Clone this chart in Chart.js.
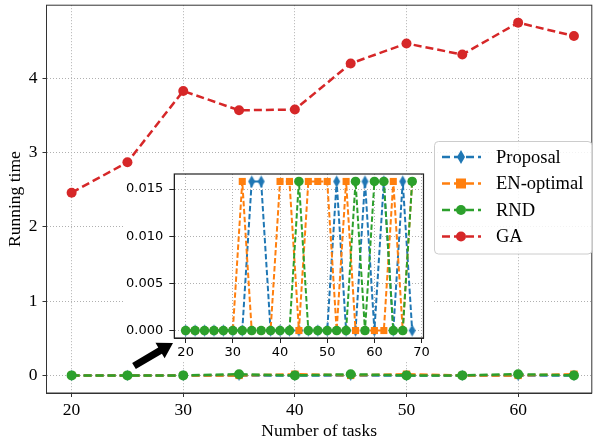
<!DOCTYPE html>
<html><head><meta charset="utf-8">
<script src="https://cdn.jsdelivr.net/npm/chart.js@4/dist/chart.umd.min.js"></script>
<style>
html,body{margin:0;padding:0;background:#fff;}
#wrap{position:relative;width:597px;height:444px;}
#main{position:absolute;left:0;top:0;}
#inset{position:absolute;left:110px;top:168px;}
</style></head>
<body>
<div id="wrap">
<canvas id="main" width="597" height="444"></canvas>
<canvas id="inset" width="322" height="205"></canvas>
</div>
<script>
// ---------- DATA ----------
const mainTasks = [20, 25, 30, 35, 40, 45, 50, 55, 60, 65];
const mainProposal = [0, 0, 0, 0, 0, 0, 0, 0, 0, 0];
const mainENoptimal = [0, 0, 0, 0, 0.0158, 0, 0.0158, 0, 0, 0.0158];
const mainRND = [0, 0, 0, 0.0158, 0, 0.0158, 0, 0, 0.0158, 0];
const mainGA = [2.46, 2.87, 3.83, 3.57, 3.58, 4.20, 4.47, 4.32, 4.75, 4.57];
const mainXTicks = [20, 30, 40, 50, 60];
const mainYTicks = [0, 1, 2, 3, 4];

const insetTasks = [20,22,24,26,28,30,32,34,36,38,40,42,44,46,48,50,52,54,56,58,60,62,64,66,68];
const insetProposal = [0,0,0,0,0,0,0,0.0158,0.0158,0,0,0,0,0,0,0,0.0158,0,0,0.0158,0,0.0158,0,0.0158,0];
const insetENoptimal = [0,0,0,0,0,0,0.0158,0,0,0,0.0158,0.0158,0,0.0158,0.0158,0.0158,0,0.0158,0,0,0,0,0.0158,0,0.0158];
const insetRND = [0,0,0,0,0,0,0,0,0,0,0,0,0.0158,0,0,0,0,0,0.0158,0,0.0158,0.0158,0,0,0.0158];
const insetXTicks = [20, 30, 40, 50, 60, 70];
const insetYTicks = [0, 0.005, 0.010, 0.015];

const seriesNames = ['Proposal', 'EN-optimal', 'RND', 'GA'];
const colors = ['#1f77b4', '#ff7f0e', '#2ca02c', '#d62728'];

// ---------- helpers ----------
function thinDiamond(w, h, color) {
  const c = document.createElement('canvas');
  c.width = Math.ceil(w) + 2; c.height = Math.ceil(h) + 2;
  const g = c.getContext('2d');
  const cx = c.width / 2, cy = c.height / 2;
  g.fillStyle = color;
  g.beginPath();
  g.moveTo(cx, cy - h / 2); g.lineTo(cx + w / 2, cy); g.lineTo(cx, cy + h / 2); g.lineTo(cx - w / 2, cy);
  g.closePath(); g.fill();
  return c;
}
const pts = (xs, ys) => xs.map((x, i) => ({x: x, y: ys[i]}));
const serif = "'Liberation Serif', 'Times New Roman', serif";
const sans = "'DejaVu Sans', sans-serif";
const noPad = s => { s.paddingTop = 0; s.paddingBottom = 0; s.paddingLeft = 0; s.paddingRight = 0; };

function boxPlugin(color, width) {
  return {
    id: 'box' + Math.floor(Math.random() * 1e6),
    afterDatasetsDraw(chart) {
      const a = chart.chartArea, ctx = chart.ctx;
      ctx.save(); ctx.strokeStyle = color; ctx.lineWidth = width;
      ctx.strokeRect(a.left, a.top, a.right - a.left, a.bottom - a.top);
      ctx.restore();
    }
  };
}

// ---------- main chart ----------
const mainDiamond = thinDiamond(6.5, 11, colors[0]);
const legendDiamond = thinDiamond(8, 14, colors[0]);

const legendPlugin = {
  id: 'customLegend',
  afterDraw(chart) {
    const ctx = chart.ctx;
    ctx.save();
    const x0 = 434.5, y0 = 141.5, x1 = 592, y1 = 254, r = 4;
    ctx.beginPath();
    ctx.moveTo(x0 + r, y0); ctx.lineTo(x1 - r, y0); ctx.quadraticCurveTo(x1, y0, x1, y0 + r);
    ctx.lineTo(x1, y1 - r); ctx.quadraticCurveTo(x1, y1, x1 - r, y1);
    ctx.lineTo(x0 + r, y1); ctx.quadraticCurveTo(x0, y1, x0, y1 - r);
    ctx.lineTo(x0, y0 + r); ctx.quadraticCurveTo(x0, y0, x0 + r, y0);
    ctx.closePath();
    ctx.fillStyle = 'rgba(255,255,255,0.85)'; ctx.fill();
    ctx.strokeStyle = '#cccccc'; ctx.lineWidth = 1; ctx.stroke();

    const ys = [157, 183.5, 210, 236.5];
    seriesNames.forEach((name, i) => {
      const y = ys[i];
      ctx.strokeStyle = colors[i]; ctx.lineWidth = 2.5; ctx.setLineDash([8, 4]);
      ctx.beginPath(); ctx.moveTo(442, y); ctx.lineTo(481, y); ctx.stroke();
      ctx.setLineDash([]);
      ctx.fillStyle = colors[i];
      if (i === 0) ctx.drawImage(legendDiamond, 461 - legendDiamond.width / 2, y - legendDiamond.height / 2);
      else if (i === 1) ctx.fillRect(461 - 5, y - 5, 10, 10);
      else { ctx.beginPath(); ctx.arc(461, y, 5, 0, Math.PI * 2); ctx.fill(); }
      ctx.fillStyle = '#000'; ctx.font = "18.5px " + serif; ctx.textBaseline = 'middle';
      ctx.fillText(name, 496, y + 1);
    });
    ctx.restore();
  }
};

function mkDs(label, data, i, style, radius, lw, dash, order) {
  return {label, data, borderColor: colors[i], backgroundColor: colors[i], pointBackgroundColor: colors[i],
    pointBorderColor: colors[i], pointBorderWidth: 0, pointStyle: style, pointRadius: radius,
    borderWidth: lw, borderDash: dash, tension: 0, fill: false, order, clip: false};
}

new Chart(document.getElementById('main'), {
  type: 'line',
  data: {datasets: [
    mkDs('Proposal', pts(mainTasks, mainProposal), 0, mainDiamond, 5, 2.5, [8, 4], 4),
    mkDs('EN-optimal', pts(mainTasks, mainENoptimal), 1, 'rect', 5.2, 2.5, [8, 4], 3),
    mkDs('RND', pts(mainTasks, mainRND), 2, 'circle', 5, 2.5, [8, 4], 2),
    mkDs('GA', pts(mainTasks, mainGA), 3, 'circle', 5, 2.5, [8, 4], 1)
  ]},
  options: {
    responsive: false, animation: false, devicePixelRatio: 1,
    layout: {padding: {top: 2, right: 1, left: 0, bottom: 0}},
    plugins: {legend: {display: false}, tooltip: {enabled: false}},
    scales: {
      x: {type: 'linear', min: 17.75, max: 66.6,
        afterBuildTicks: s => { s.ticks = mainXTicks.map(v => ({value: v})); },
        afterFit: s => { s.height = 51; noPad(s); },
        grid: {color: '#b0b0b0', lineWidth: 1, tickLength: 4, tickColor: '#333', tickBorderDash: [], tickWidth: 1},
        border: {display: true, color: '#333', width: 1, dash: [1, 2]},
        ticks: {color: '#000', font: {family: serif, size: 17.5}, padding: 3, maxRotation: 0},
        title: {display: true, text: 'Number of tasks', color: '#000', font: {family: serif, size: 17.5}, padding: {top: 0, bottom: 2}}
      },
      y: {type: 'linear', min: -0.237, max: 4.985,
        afterBuildTicks: s => { s.ticks = mainYTicks.map(v => ({value: v})); },
        afterFit: s => { s.width = 46.5; noPad(s); },
        grid: {color: '#b0b0b0', lineWidth: 1, tickLength: 4, tickColor: '#333', tickBorderDash: [], tickWidth: 1},
        border: {display: true, color: '#333', width: 1, dash: [1, 2]},
        ticks: {color: '#000', font: {family: serif, size: 17.5}, padding: 5},
        title: {display: true, text: 'Running time', color: '#000', font: {family: serif, size: 17.5}, padding: {top: 5, bottom: 0}}
      }
    }
  },
  plugins: [boxPlugin('#333', 1), legendPlugin]
});

// ---------- inset chart ----------
const insetDiamond = thinDiamond(7, 12, colors[0]);
const OX = 110, OY = 168; // inset canvas offset on the page
const insetBg = {
  id: 'insetBg',
  beforeDraw(chart) {
    const ctx = chart.ctx;
    ctx.save(); ctx.fillStyle = '#fff';
    ctx.fillRect(14, 4, chart.width - 14, 189);
    ctx.restore();
  },
  afterDraw(chart) {
    const ctx = chart.ctx;
    ctx.save();
    const tail = [134 - OX, 366 - OY], tip = [173 - OX, 343 - OY];
    const dx = tip[0] - tail[0], dy = tip[1] - tail[1], L = Math.hypot(dx, dy);
    const ux = dx / L, uy = dy / L, nx = -uy, ny = ux;
    const hl = 15, sw = 3.6, hw = 9;
    const bx = tip[0] - ux * hl, by = tip[1] - uy * hl;
    ctx.fillStyle = '#000';
    ctx.beginPath();
    ctx.moveTo(tail[0] + nx * sw, tail[1] + ny * sw);
    ctx.lineTo(bx + nx * sw, by + ny * sw);
    ctx.lineTo(bx + nx * hw, by + ny * hw);
    ctx.lineTo(tip[0], tip[1]);
    ctx.lineTo(bx - nx * hw, by - ny * hw);
    ctx.lineTo(bx - nx * sw, by - ny * sw);
    ctx.lineTo(tail[0] - nx * sw, tail[1] - ny * sw);
    ctx.closePath(); ctx.fill();
    ctx.restore();
  }
};
new Chart(document.getElementById('inset'), {
  type: 'line',
  data: {datasets: [
    mkDs('Proposal', pts(insetTasks, insetProposal), 0, insetDiamond, 6, 2, [5.5, 2.5], 3),
    mkDs('EN-optimal', pts(insetTasks, insetENoptimal), 1, 'rect', 5, 2, [5.5, 2.5], 2),
    mkDs('RND', pts(insetTasks, insetRND), 2, 'circle', 4.8, 2, [5.5, 2.5], 1)
  ]},
  options: {
    responsive: false, animation: false, devicePixelRatio: 1,
    layout: {padding: {top: 6, right: 8.5, left: 0, bottom: 10}},
    plugins: {legend: {display: false}, tooltip: {enabled: false}},
    scales: {
      x: {type: 'linear', min: 17.6, max: 70.4,
        afterBuildTicks: s => { s.ticks = insetXTicks.map(v => ({value: v})); },
        afterFit: s => { s.height = 25; noPad(s); },
        grid: {color: '#b0b0b0', lineWidth: 1, tickLength: 5, tickColor: '#222', tickBorderDash: [], tickWidth: 1},
        border: {display: true, color: '#222', width: 1, dash: [1, 2]},
        ticks: {color: '#000', font: {family: sans, size: 13}, padding: 2, maxRotation: 0}
      },
      y: {type: 'linear', min: -0.00079, max: 0.01659,
        afterBuildTicks: s => { s.ticks = insetYTicks.map(v => ({value: v})); },
        afterFit: s => { s.width = 64.3; noPad(s); },
        grid: {color: '#b0b0b0', lineWidth: 1, tickLength: 5, tickColor: '#222', tickBorderDash: [], tickWidth: 1},
        border: {display: true, color: '#222', width: 1, dash: [1, 2]},
        ticks: {color: '#000', font: {family: sans, size: 13}, padding: 6, callback: v => v.toFixed(3)}
      }
    }
  },
  plugins: [insetBg, boxPlugin('#222', 1.2)]
});
</script>
</body></html>
